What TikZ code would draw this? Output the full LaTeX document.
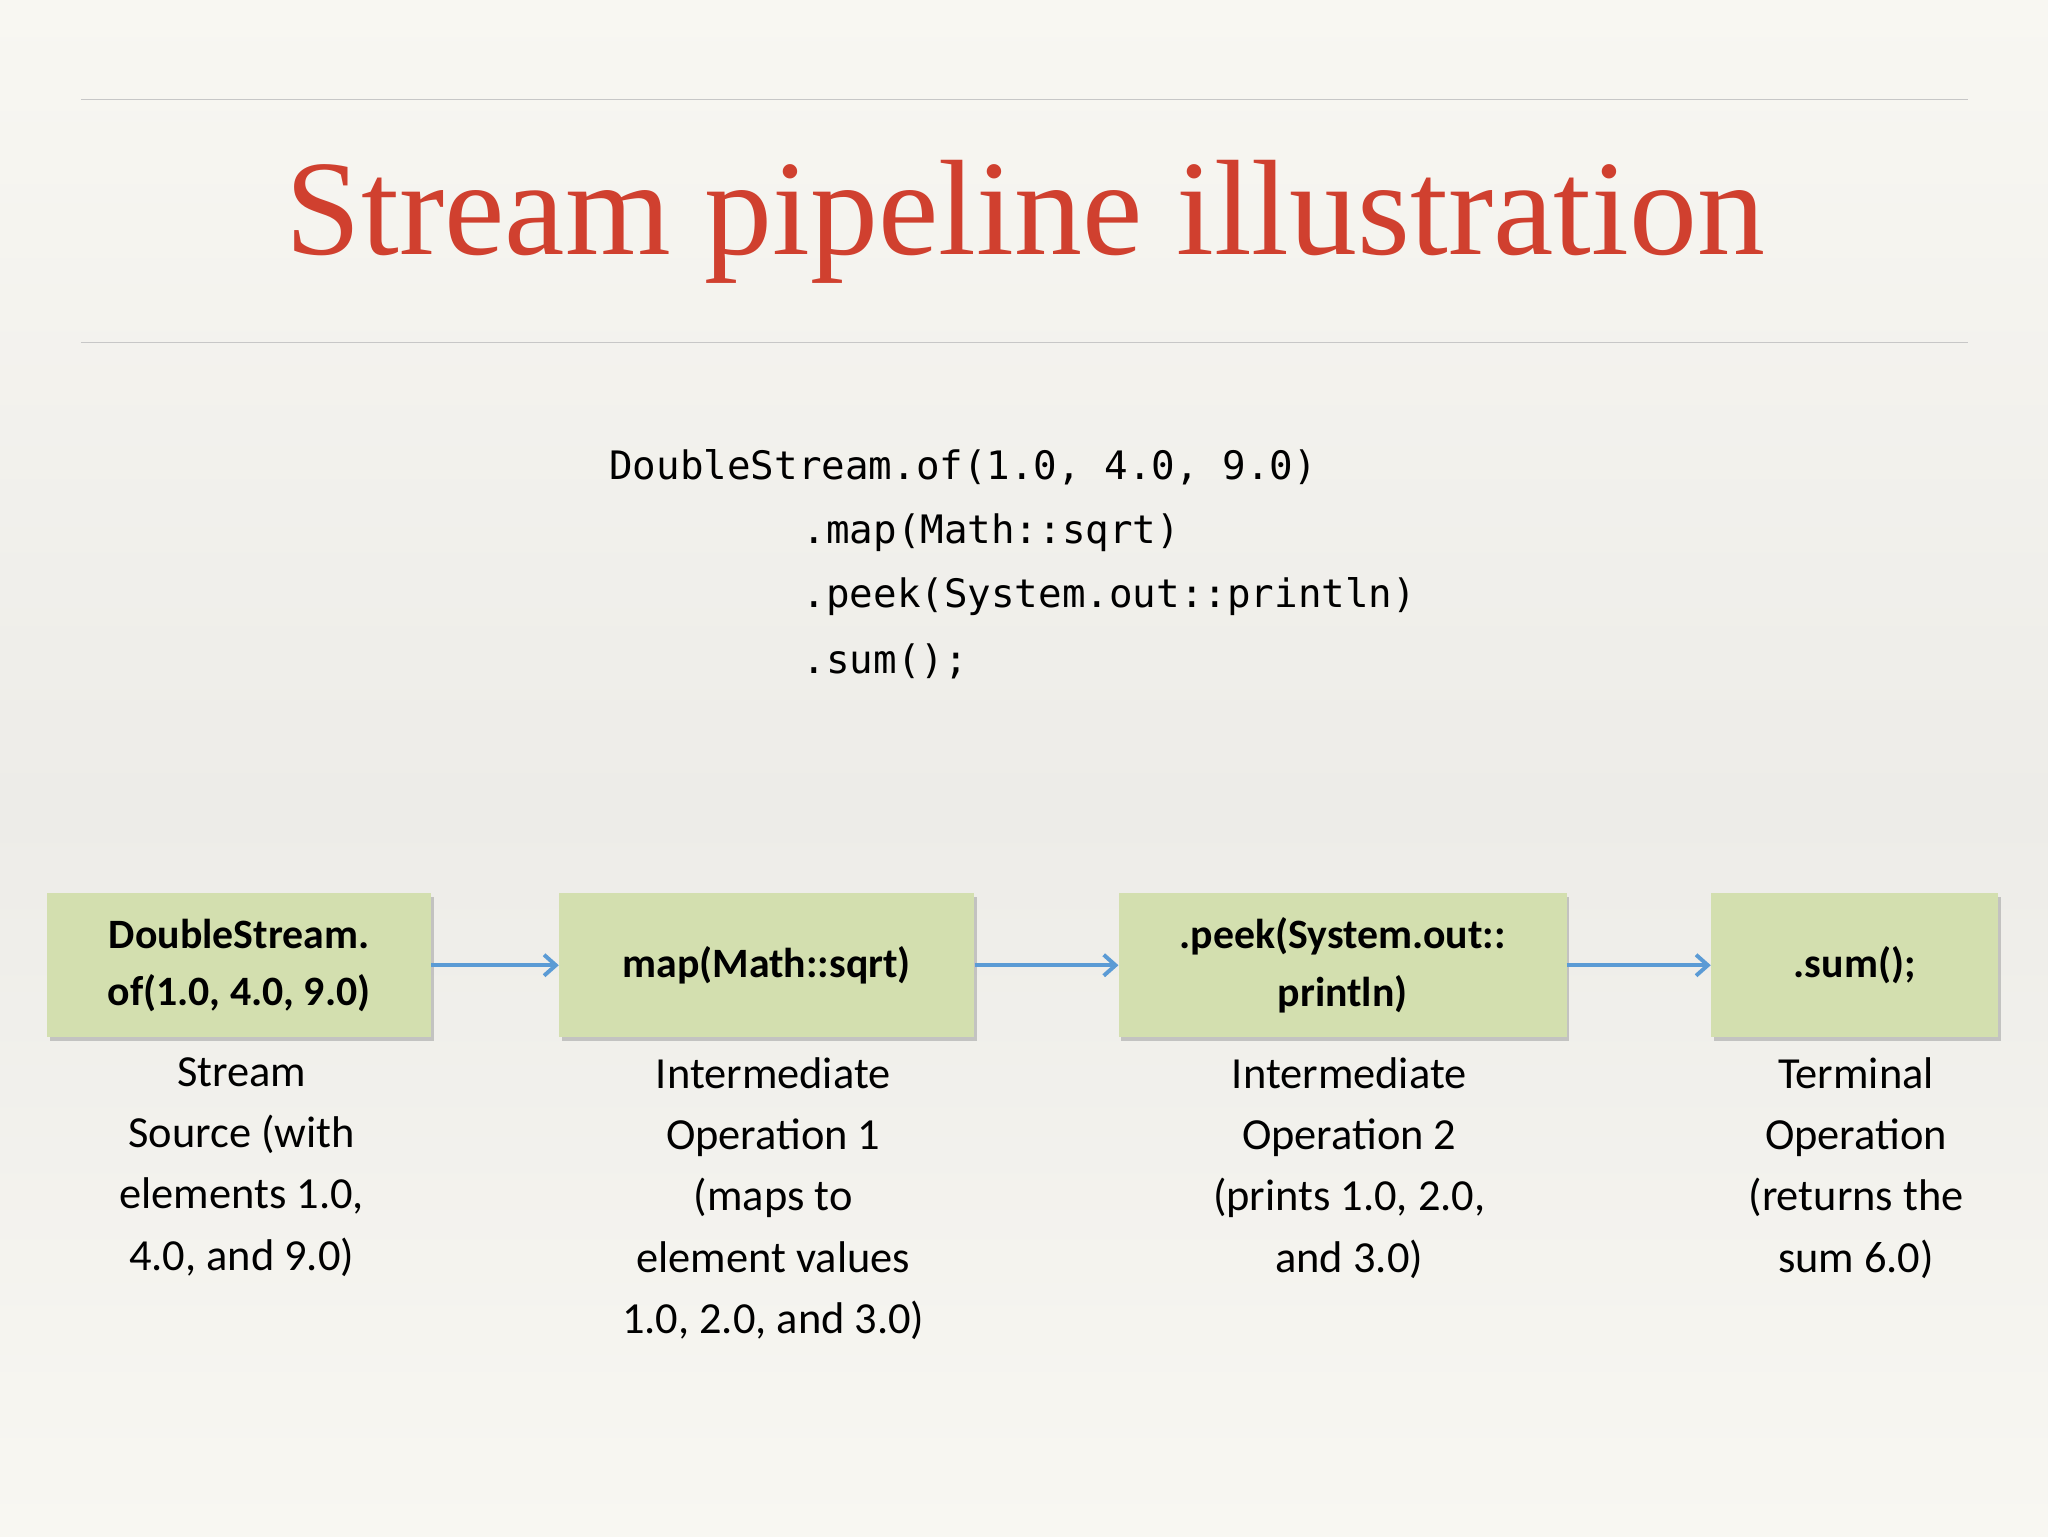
\documentclass[tikz,border=0pt]{standalone}
\usepackage{fontspec}
\setmainfont{Carlito}
\newfontfamily\titlefont{Liberation Serif}
\newfontfamily\codefont{DejaVu Sans Mono}
\usetikzlibrary{arrows.meta,shadows}
\definecolor{bgtop}{HTML}{F8F7F2}
\definecolor{bgmid}{HTML}{EDECE8}
\definecolor{titlered}{HTML}{D0402F}
\definecolor{boxgreen}{HTML}{D3DFAF}
\definecolor{arrowblue}{HTML}{5B9BD5}
\begin{document}
\begin{tikzpicture}[x=1pt,y=-1pt,
  opbox/.style={fill=boxgreen,draw=none,minimum height=110pt,inner sep=0pt,align=center,
    font=\fontsize{32}{44}\selectfont\bfseries,drop shadow={shadow xshift=2pt,shadow yshift=-3pt,fill=black!35,opacity=0.6}},
  desc/.style={anchor=north,align=center,font=\fontsize{34}{47}\selectfont},
  conn/.style={draw=arrowblue,line width=3pt,-{Straight Barb[length=9pt,width=16pt]}},
  rule/.style={draw=black!22,line width=1pt}]
\useasboundingbox (0,0) rectangle (1568,1176);
\shade[top color=bgtop,bottom color=bgmid] (0,0) rectangle (1568,620);
\shade[top color=bgmid,bottom color=bgtop] (0,620) rectangle (1568,1176);
\coordinate (r1a) at (62,76); \coordinate (r1b) at (1507,76);
\coordinate (r2a) at (62,262); \coordinate (r2b) at (1507,262);
\draw[rule] (r1a) -- (r1b);
\draw[rule] (r2a) -- (r2b);
\node[text=titlered,font=\titlefont\fontsize{104}{110}\selectfont] (title) at (785,170) {Stream pipeline illustration};
\node[anchor=west,font=\codefont\fontsize{30}{40}\selectfont] (c1) at (463,358) {DoubleStream.of(1.0, 4.0, 9.0)};
\node[anchor=west,font=\codefont\fontsize{30}{40}\selectfont] (c2) at (611,408) {.map(Math::sqrt)};
\node[anchor=west,font=\codefont\fontsize{30}{40}\selectfont] (c3) at (611,457) {.peek(System.out::println)};
\node[anchor=west,font=\codefont\fontsize{30}{40}\selectfont] (c4) at (611,506) {.sum();};
\node[opbox,minimum width=294pt] (b1) at (183,739) {DoubleStream.\\of(1.0, 4.0, 9.0)};
\node[opbox,minimum width=318pt] (b2) at (587,739) {map(Math::sqrt)};
\node[opbox,minimum width=343pt] (b3) at (1028,739) {.peek(System.out::\\println)};
\node[opbox,minimum width=220pt] (b4) at (1420,739) {.sum();};
\draw[conn] (b1.east) -- (b2.west);
\draw[conn] (b2.east) -- (b3.west);
\draw[conn] (b3.east) -- (b4.west);
\node[desc] (d1) at (185,806) {Stream\\Source (with\\elements 1.0,\\4.0, and 9.0)};
\node[desc] (d2) at (592,806) {Intermediate\\Operation 1\\(maps to\\element values\\1.0, 2.0, and 3.0)};
\node[desc] (d3) at (1033,806) {Intermediate\\Operation 2\\(prints 1.0, 2.0,\\and 3.0)};
\node[desc] (d4) at (1421,806) {Terminal\\Operation\\(returns the\\sum 6.0)};
\end{tikzpicture}
\end{document}
